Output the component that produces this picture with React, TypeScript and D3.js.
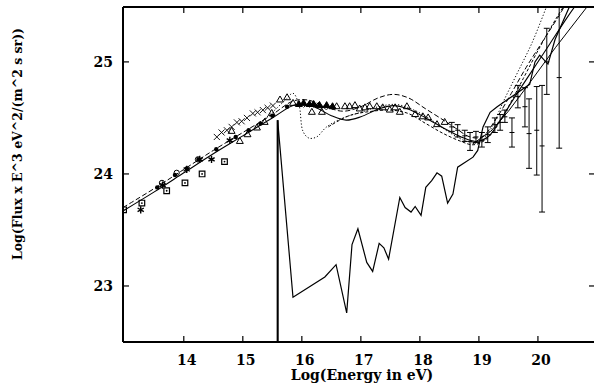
import React from 'react';
import * as d3 from 'd3';

const W = 595;
const H = 392;

const xTicks = [14, 15, 16, 17, 18, 19, 20];
const yTicks = [23, 24, 25];

// model curves [log E, log(flux E^3)]
const solidFit = [
  [12.97, 23.67], [13.5, 23.84], [14, 24.01], [14.5, 24.18], [15, 24.34], [15.5, 24.5],
  [15.9, 24.62], [16.2, 24.6], [16.5, 24.52], [16.75, 24.48], [17.0, 24.51], [17.3, 24.58],
  [17.55, 24.61], [17.8, 24.58], [18.1, 24.5], [18.4, 24.41], [18.7, 24.33], [18.95, 24.29],
  [19.15, 24.33], [19.35, 24.47], [19.6, 24.68], [19.9, 24.92], [20.2, 25.16], [20.5, 25.4],
  [20.7, 25.55],
];
const solidStraight = [
  [18.9, 24.27], [19.2, 24.38], [19.5, 24.56], [19.8, 24.77], [20.3, 25.13], [20.83, 25.49],
];
const dashUpper = [
  [12.97, 23.7], [13.5, 23.87], [14, 24.04], [14.5, 24.21], [15, 24.37], [15.5, 24.53],
  [15.85, 24.65], [16.1, 24.66], [16.4, 24.6], [16.7, 24.56], [17.0, 24.6], [17.3, 24.68],
  [17.55, 24.71], [17.8, 24.68], [18.1, 24.58], [18.4, 24.48], [18.6, 24.41], [18.85, 24.33],
  [19.05, 24.33], [19.3, 24.5], [19.55, 24.72], [19.8, 24.95], [20.1, 25.2], [20.4, 25.45],
  [20.5, 25.55],
];
const dotted = [
  [15.2, 24.42], [15.5, 24.55], [15.72, 24.66], [15.85, 24.72], [15.95, 24.62], [16.02, 24.38],
  [16.12, 24.32], [16.25, 24.33], [16.42, 24.42], [16.7, 24.5], [17.0, 24.55], [17.3, 24.6],
  [17.6, 24.62], [17.9, 24.57], [18.2, 24.48], [18.5, 24.37], [18.8, 24.29], [19.0, 24.28],
  [19.2, 24.4], [19.4, 24.63], [19.65, 24.9], [19.9, 25.17], [20.15, 25.5],
];
const dashLower = [
  [16.45, 24.42], [16.8, 24.52], [17.2, 24.56], [17.5, 24.57], [17.8, 24.54], [18.1, 24.45],
  [18.4, 24.36], [18.7, 24.29], [18.9, 24.26], [19.1, 24.3], [19.3, 24.42], [19.5, 24.6],
  [19.75, 24.85], [20.0, 25.1], [20.3, 25.38], [20.5, 25.55],
];
const jagged = [
  [15.59, 22.5], [15.59, 24.48], [15.85, 22.9], [16.39, 23.08], [16.58, 23.19], [16.76, 22.76],
  [16.85, 23.37], [16.95, 23.51], [17.1, 23.21], [17.2, 23.13], [17.31, 23.38], [17.39, 23.34],
  [17.47, 23.24], [17.66, 23.79], [17.75, 23.7], [17.85, 23.66], [17.92, 23.71], [18.02, 23.63],
  [18.1, 23.88], [18.2, 23.94], [18.29, 24.01], [18.37, 23.98], [18.47, 23.74], [18.56, 23.82],
  [18.64, 24.06], [18.9, 24.15], [18.98, 24.21], [19.07, 24.42], [19.19, 24.55], [19.31, 24.6],
  [19.61, 24.71], [19.86, 24.8], [19.95, 25.0], [20.03, 25.06], [20.17, 24.98], [20.29, 25.2],
  [20.54, 25.5],
];

// measurements
const crosses = [
  [14.56, 24.33], [14.64, 24.37], [14.73, 24.39], [14.81, 24.42], [14.9, 24.46], [14.98, 24.47],
  [15.07, 24.5], [15.17, 24.54], [15.25, 24.55], [15.34, 24.57], [15.42, 24.59], [15.51, 24.61],
  [16.08, 24.62], [16.25, 24.62], [16.36, 24.6], [16.47, 24.6],
];
const triangles = [
  [14.81, 24.38], [14.95, 24.29], [15.08, 24.35], [15.24, 24.41], [15.37, 24.46], [15.49, 24.54],
  [15.63, 24.66], [15.75, 24.68], [15.85, 24.63], [16.17, 24.55], [16.34, 24.55], [16.59, 24.6],
  [16.73, 24.6], [16.81, 24.6], [16.9, 24.61], [16.98, 24.58], [17.07, 24.59], [17.15, 24.6],
  [17.27, 24.6], [17.37, 24.59], [17.49, 24.57], [17.58, 24.59], [17.66, 24.55], [17.78, 24.6],
  [17.92, 24.53], [18.05, 24.51], [18.14, 24.5], [18.29, 24.44], [18.42, 24.46],
];
const filledTriangles = [
  [15.95, 24.62], [16.03, 24.63], [16.13, 24.62], [16.2, 24.62], [16.3, 24.61], [16.42, 24.61],
  [16.52, 24.6],
];
const squares = [
  [12.98, 23.68], [13.29, 23.74], [13.71, 23.85], [14.02, 23.92], [14.31, 24.0], [14.69, 24.11],
];
const asterisks = [
  [13.27, 23.68], [13.64, 23.9], [14.05, 24.04], [14.27, 24.13], [14.47, 24.13], [14.78, 24.3],
];
const circles = [
  [13.63, 23.92], [13.88, 24.01], [14.24, 24.13],
];
const darkDots = [
  [13.55, 23.88], [13.85, 23.99], [14.05, 24.05], [14.25, 24.13], [14.55, 24.22], [14.88, 24.33],
  [15.1, 24.39], [15.3, 24.45], [15.5, 24.52], [15.75, 24.6],
];
// [x, centre, low, high]
const errBars = [
  [18.54, 24.42, 24.38, 24.46], [18.64, 24.39, 24.33, 24.44], [18.76, 24.34, 24.29, 24.39],
  [18.85, 24.29, 24.21, 24.37], [18.95, 24.33, 24.28, 24.38], [19.05, 24.3, 24.24, 24.37],
  [19.15, 24.35, 24.28, 24.42], [19.27, 24.44, 24.37, 24.5], [19.36, 24.46, 24.39, 24.53],
  [19.44, 24.51, 24.46, 24.57], [19.56, 24.37, 24.24, 24.5], [19.66, 24.69, 24.59, 24.79],
  [19.78, 24.6, 24.42, 24.77], [19.85, 24.36, 24.05, 24.67], [19.98, 24.39, 23.99, 24.78],
  [20.07, 24.25, 23.66, 24.79], [20.15, 25.0, 24.71, 25.3], [20.36, 24.86, 24.23, 25.49],
];

const L = 123, R = 594, T = 7, B = 342;
const x = d3.scaleLinear().domain([12.97, 20.95]).range([L, R]);
const y = d3.scaleLinear().domain([22.5, 25.49]).range([B, T]);

const smooth = d3.line<number[]>().x(d => x(d[0])).y(d => y(d[1])).curve(d3.curveCatmullRom.alpha(0.5));
const straight = d3.line<number[]>().x(d => x(d[0])).y(d => y(d[1]));

const sym = (type: d3.SymbolType, size: number) => d3.symbol().type(type).size(size)() as string;

const font = '"DejaVu Serif", "Liberation Serif", serif';

export default function App() {
  const pTimes = sym(d3.symbolTimes, 26);
  const pTri = sym(d3.symbolTriangle2, 34);
  const pSq = sym(d3.symbolSquare2, 40);
  const pAst = sym(d3.symbolAsterisk, 36);
  const pCirc = sym(d3.symbolCircle, 22);
  return (
    <svg width={W} height={H} style={{ position: 'absolute', left: 0, top: 0, background: '#fff' }}>
      <defs>
        <clipPath id="plot">
          <rect x={L} y={T} width={R - L} height={B - T} />
        </clipPath>
      </defs>
      <g clipPath="url(#plot)" fill="none" stroke="#000">
        <path d={smooth(solidFit) as string} strokeWidth={1.1} />
        <path d={straight(solidStraight) as string} strokeWidth={1} />
        <path d={smooth(dashUpper) as string} strokeWidth={1} strokeDasharray="5,2.5" />
        <path d={smooth(dotted) as string} strokeWidth={1} strokeDasharray="1.2,2" />
        <path d={smooth(dashLower) as string} strokeWidth={1} strokeDasharray="3,2" />
        <path d={straight(jagged) as string} strokeWidth={1.2} strokeLinejoin="miter" />
        <path d={straight(jagged.slice(0, 2)) as string} strokeWidth={2} />
        {errBars.map((d, i) => (
          <g key={'e' + i} strokeWidth={1}>
            <line x1={x(d[0])} x2={x(d[0])} y1={y(d[2])} y2={y(d[3])} />
            <line x1={x(d[0]) - 3} x2={x(d[0]) + 3} y1={y(d[2])} y2={y(d[2])} />
            <line x1={x(d[0]) - 3} x2={x(d[0]) + 3} y1={y(d[3])} y2={y(d[3])} />
            <line x1={x(d[0]) - 2.5} x2={x(d[0]) + 2.5} y1={y(d[1])} y2={y(d[1])} />
          </g>
        ))}
        {crosses.map((d, i) => (
          <path key={'x' + i} d={pTimes} transform={`translate(${x(d[0])},${y(d[1])})`} strokeWidth={0.9} />
        ))}
        {triangles.map((d, i) => (
          <path key={'t' + i} d={pTri} transform={`translate(${x(d[0])},${y(d[1])})`} strokeWidth={1} />
        ))}
        {filledTriangles.map((d, i) => (
          <path key={'ft' + i} d={pTri} transform={`translate(${x(d[0])},${y(d[1])})`} fill="#000" strokeWidth={1} />
        ))}
        {squares.map((d, i) => (
          <g key={'s' + i} transform={`translate(${x(d[0])},${y(d[1])})`}>
            <path d={pSq} strokeWidth={1.2} />
            <circle r={0.9} fill="#000" stroke="none" />
          </g>
        ))}
        {asterisks.map((d, i) => (
          <path key={'a' + i} d={pAst} transform={`translate(${x(d[0])},${y(d[1])})`} strokeWidth={1.4} />
        ))}
        {circles.map((d, i) => (
          <path key={'c' + i} d={pCirc} transform={`translate(${x(d[0])},${y(d[1])})`} strokeWidth={1} />
        ))}
        {darkDots.map((d, i) => (
          <circle key={'d' + i} cx={x(d[0])} cy={y(d[1])} r={2.2} fill="#000" stroke="none" />
        ))}
      </g>

      <g stroke="#000" fill="none">
        <line x1={L} x2={L} y1={T} y2={B} strokeWidth={2} />
        <line x1={L} x2={R} y1={B} y2={B} strokeWidth={2} />
        <line x1={L} x2={R} y1={T} y2={T} strokeWidth={2} />
        {xTicks.map(t => (
          <g key={'xt' + t} strokeWidth={1.2}>
            <line x1={x(t)} x2={x(t)} y1={B} y2={B - 6} />
            <line x1={x(t)} x2={x(t)} y1={T} y2={T + 6} />
          </g>
        ))}
        {yTicks.map(t => (
          <g key={'yt' + t} strokeWidth={1.2}>
            <line x1={L} x2={L + 6} y1={y(t)} y2={y(t)} />
            <line x1={R - 5} x2={R} y1={y(t)} y2={y(t)} />
          </g>
        ))}
      </g>

      <g fontFamily={font} fontWeight="bold" fontSize={14} fill="#000">
        {xTicks.map(t => (
          <text key={'xl' + t} x={x(t) + 3} y={365} textAnchor="middle">{t}</text>
        ))}
        {yTicks.map(t => (
          <text key={'yl' + t} x={113} y={y(t) + 5} textAnchor="end">{t}</text>
        ))}
        <text x={362} y={380} textAnchor="middle">Log(Energy in eV)</text>
        <text transform="translate(22,144) rotate(-90)" textAnchor="middle" fontSize={12.5}>
          Log(Flux x E^3 eV^2/(m^2 s sr))
        </text>
      </g>
    </svg>
  );
}
